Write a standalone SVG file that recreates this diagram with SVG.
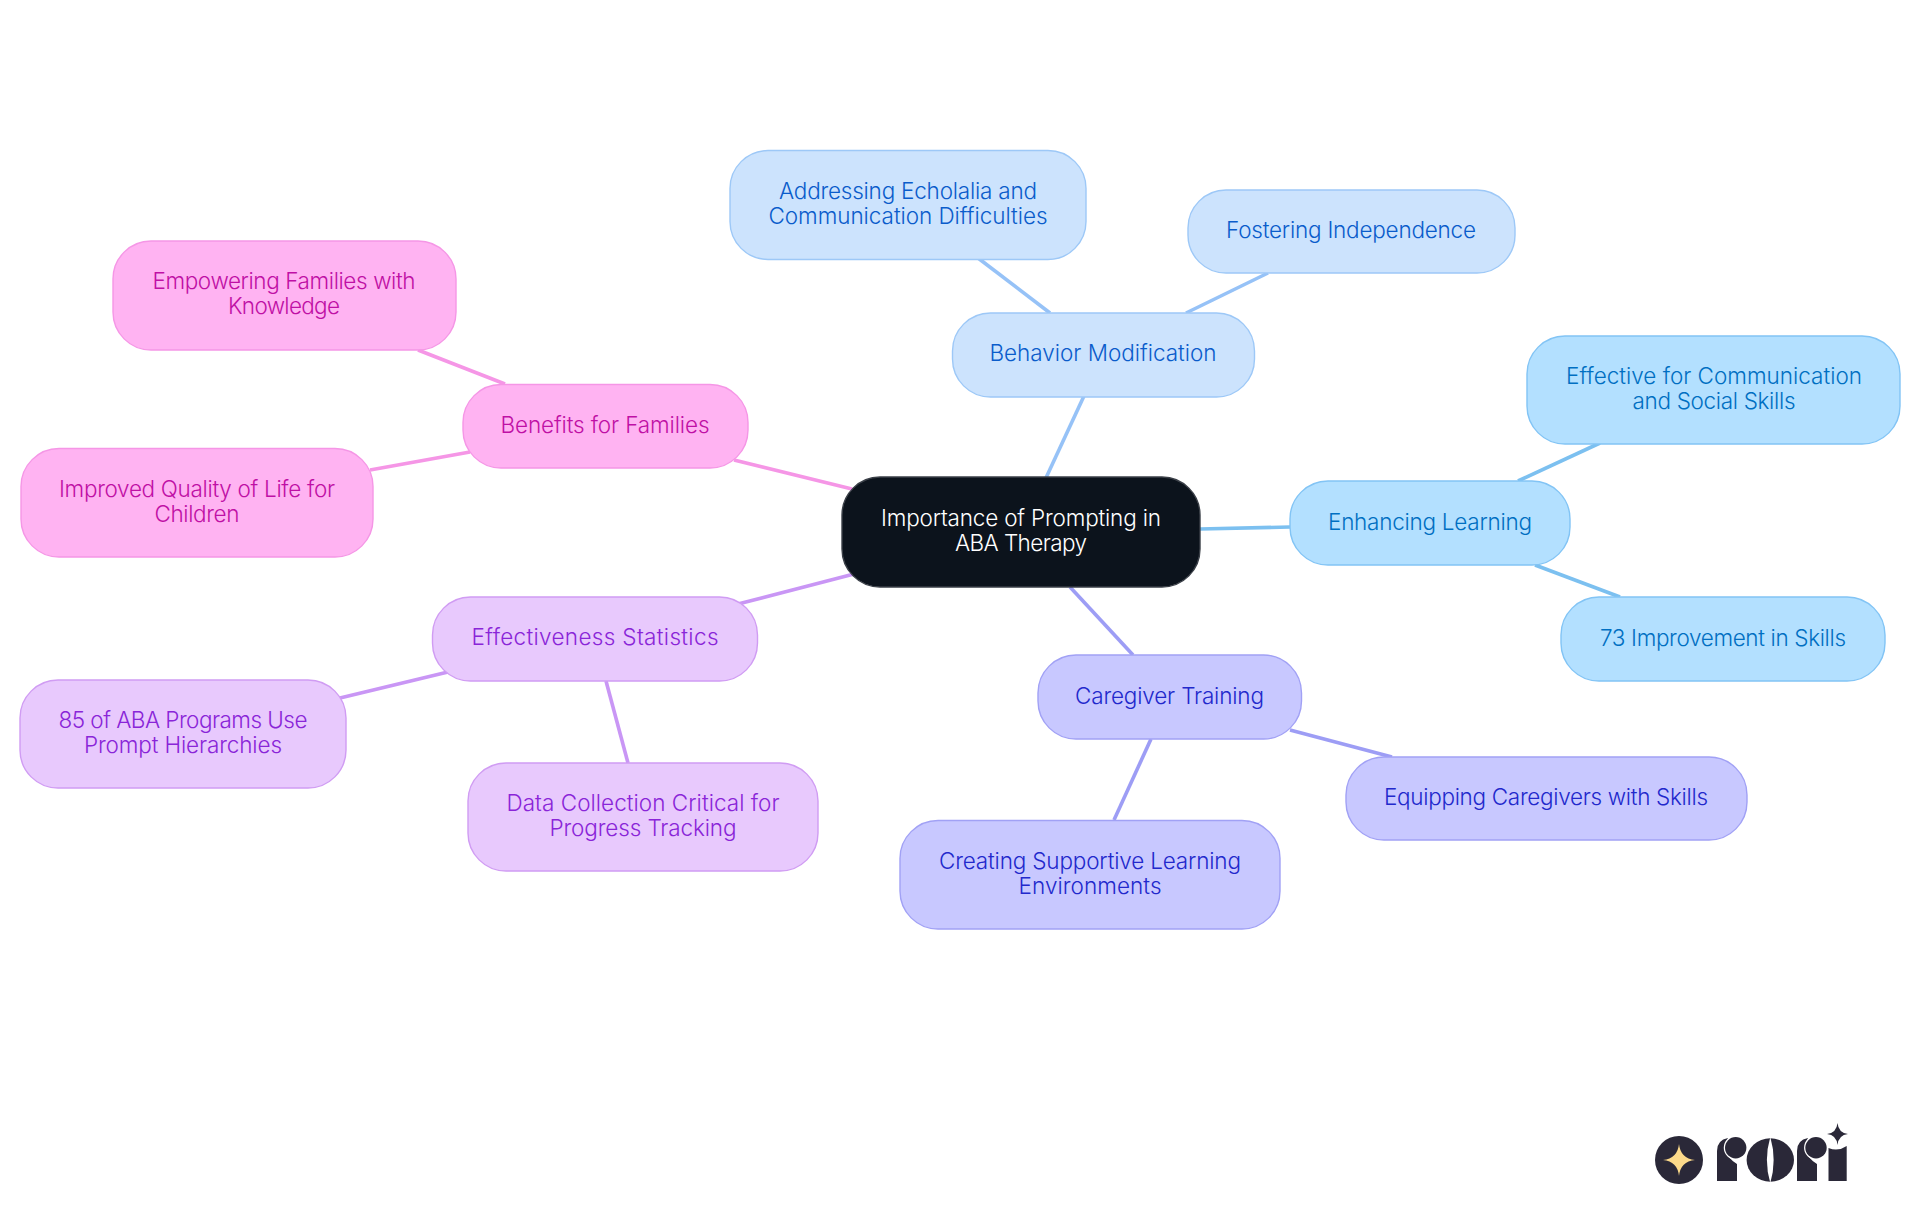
<svg xmlns="http://www.w3.org/2000/svg" width="1920" height="1215" viewBox="0 0 1920 1215">
<style>
text{font-family:"Inter","Noto Sans","Liberation Sans",sans-serif;font-size:22.5px;text-anchor:middle;font-weight:300}
.n{stroke-width:1.4}
.c{fill:none;stroke-width:3.6}
.pk rect{fill:#ffb3f2;stroke:#f596e6}.pk text{fill:#bf10a5}
.pu rect{fill:#e8c9fd;stroke:#d09cf3}.pu text{fill:#8a25d8}
.in rect{fill:#c8c8ff;stroke:#a1a1f5}.in text{fill:#2228cc}
.sk rect{fill:#b3e0ff;stroke:#82c4f5}.sk text{fill:#006fc2}
.bl rect{fill:#cce3fd;stroke:#9dc8f7}.bl text{fill:#0a5ccb}
.lg{fill:#2a2838}
.dot{fill:#2a2838;stroke:#fff;stroke-width:2.500;paint-order:stroke}
</style>
<rect width="1920" height="1215" fill="#fff"/>
<g id="connectors">
<path class="c" stroke="#96c2f7" d="M1084 396L1045 480"/>
<path class="c" stroke="#96c2f7" d="M978 258L1050 313"/>
<path class="c" stroke="#96c2f7" d="M1268 273L1186 313"/>
<path class="c" stroke="#7cc0f0" d="M1200 529L1290 527"/>
<path class="c" stroke="#7cc0f0" d="M1600 443L1518 481"/>
<path class="c" stroke="#7cc0f0" d="M1535 565L1620 597"/>
<path class="c" stroke="#9d9df5" d="M1070 587L1133 655"/>
<path class="c" stroke="#9d9df5" d="M1290 730L1392 757"/>
<path class="c" stroke="#9d9df5" d="M1151 739L1114 820"/>
<path class="c" stroke="#c996f5" d="M854 574L738 604"/>
<path class="c" stroke="#c996f5" d="M448 672L340 698"/>
<path class="c" stroke="#c996f5" d="M606 681L628 763"/>
<path class="c" stroke="#f596e6" d="M852 489L734 460"/>
<path class="c" stroke="#f596e6" d="M418 350L505 384"/>
<path class="c" stroke="#f596e6" d="M370 470L470 452"/>
</g>
<g id="root"><rect class="n" x="842" y="477" width="358" height="110" rx="38" fill="#0c131c" stroke="#3a3f47"/><text x="1021" y="526" fill="#fff" textLength="280">Importance of Prompting in</text><text x="1021" y="551" fill="#fff" textLength="132">ABA Therapy</text></g>
<g id="behavior" class="bl"><rect class="n" x="952.500" y="313" width="302" height="84" rx="38"/><text x="1103" y="361" textLength="227">Behavior Modification</text></g>
<g id="echolalia" class="bl"><rect class="n" x="730" y="150.500" width="356" height="109" rx="38"/><text x="908" y="199" textLength="258">Addressing Echolalia and</text><text x="908" y="224" textLength="279">Communication Difficulties</text></g>
<g id="independence" class="bl"><rect class="n" x="1188" y="190" width="327" height="83" rx="38"/><text x="1351" y="238" textLength="250">Fostering Independence</text></g>
<g id="enhancing" class="sk"><rect class="n" x="1290" y="481" width="280" height="84" rx="38"/><text x="1430" y="530" textLength="204">Enhancing Learning</text></g>
<g id="effective" class="sk"><rect class="n" x="1527" y="336" width="373" height="108" rx="38"/><text x="1714" y="384" textLength="296">Effective for Communication</text><text x="1714" y="409" textLength="163">and Social Skills</text></g>
<g id="improvement" class="sk"><rect class="n" x="1561" y="597" width="324" height="84" rx="38"/><text x="1723" y="646" textLength="246">73 Improvement in Skills</text></g>
<g id="caregiver" class="in"><rect class="n" x="1038" y="655" width="263.500" height="84" rx="38"/><text x="1169.500" y="704" textLength="189">Caregiver Training</text></g>
<g id="equipping" class="in"><rect class="n" x="1346" y="757" width="401" height="83" rx="38"/><text x="1546" y="805" textLength="324">Equipping Caregivers with Skills</text></g>
<g id="creating" class="in"><rect class="n" x="900" y="820.500" width="380" height="108.500" rx="38"/><text x="1090" y="869" textLength="302">Creating Supportive Learning</text><text x="1090" y="894" textLength="143">Environments</text></g>
<g id="statistics" class="pu"><rect class="n" x="432.500" y="597" width="325" height="84" rx="38"/><text x="595" y="645" textLength="247">Effectiveness Statistics</text></g>
<g id="programs" class="pu"><rect class="n" x="20" y="680" width="326" height="108" rx="38"/><text x="183" y="728" textLength="249">85 of ABA Programs Use</text><text x="183" y="753" textLength="198">Prompt Hierarchies</text></g>
<g id="data" class="pu"><rect class="n" x="468" y="763" width="350" height="108" rx="38"/><text x="643" y="811" textLength="273">Data Collection Critical for</text><text x="643" y="836" textLength="187">Progress Tracking</text></g>
<g id="benefits" class="pk"><rect class="n" x="463" y="384.500" width="285" height="83.500" rx="38"/><text x="605" y="433" textLength="209">Benefits for Families</text></g>
<g id="empowering" class="pk"><rect class="n" x="113" y="241" width="343" height="109" rx="38"/><text x="284" y="289" textLength="263">Empowering Families with</text><text x="284" y="314" textLength="112">Knowledge</text></g>
<g id="quality" class="pk"><rect class="n" x="21" y="448.500" width="352" height="108.500" rx="38"/><text x="197" y="497" textLength="276">Improved Quality of Life for</text><text x="197" y="522" textLength="85">Children</text></g>
<g id="logo">
<circle class="lg" cx="1679" cy="1160" r="24"/>
<path fill="#fbd98a" d="M1679 1144Q1680.500 1158.500 1695 1160Q1680.500 1161.500 1679 1176Q1677.500 1161.500 1663 1160Q1677.500 1158.500 1679 1144Z"/>
<path class="lg" d="M1717 1181V1151Q1717 1140 1728 1138Q1722 1148 1728 1156Q1732 1161 1737 1164V1181Z"/>
<circle class="dot" cx="1735.700" cy="1147.700" r="10.700"/>
<ellipse class="lg" cx="1770.300" cy="1160" rx="23.700" ry="21.700"/>
<path fill="#fff" d="M1770.300 1137Q1763.500 1160 1770.300 1183Q1777 1160 1770.300 1137Z"/>
<path class="lg" d="M1797 1181V1151Q1797 1140 1808 1138Q1802 1148 1808 1156Q1812 1161 1817 1164V1181Z"/>
<circle class="dot" cx="1816" cy="1147.700" r="10.700"/>
<path class="lg" d="M1828.500 1181V1148Q1838 1152 1846.700 1146V1181Z"/>
<path class="lg" d="M1837.500 1123Q1838.500 1133 1848 1134Q1838.500 1135 1837.500 1145Q1836.500 1135 1827 1134Q1836.500 1133 1837.500 1123Z"/>
</g>
</svg>
